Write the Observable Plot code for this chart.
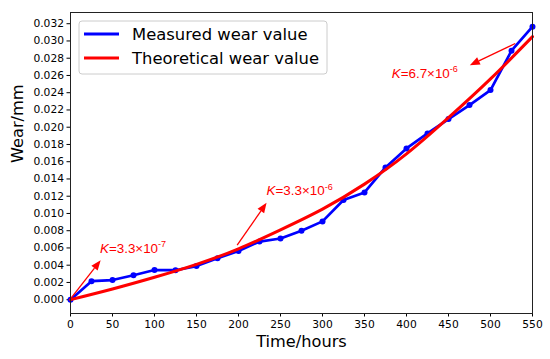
<!DOCTYPE html>
<html><head><meta charset="utf-8">
<script src="https://cdn.jsdelivr.net/npm/d3@7"></script>
<script src="https://cdn.jsdelivr.net/npm/@observablehq/plot@0.6"></script>
<style>body{margin:0;background:#fff}</style>
</head><body><div id="chart"></div>
<script>
// Measured wear (every 25 hours)
const hours = [0,25,50,75,100,125,150,175,200,225,250,275,300,325,350,375,400,425,450,475,500,525,550];
const measuredWear = [0.0000,0.00215,0.00228,0.00284,0.00344,0.00342,0.0039,0.0048,0.00565,0.00674,0.0071,0.0080,0.00908,0.01156,0.01244,0.01534,0.01754,0.01928,0.02095,0.02257,0.0243,0.02887,0.03165];
// Theoretical wear curve, read every 50 hours
const theoryHours = [0,50,100,150,200,250,300,350,400,450,500,550];
const theoryWear = [0.0000,0.00124,0.0026,0.0041,0.0059,0.0081,0.0105,0.0134,0.0169,0.0211,0.0256,0.0305];
// Axis ticks
const xTicks = [0,50,100,150,200,250,300,350,400,450,500,550];
const yTicks = [0,0.002,0.004,0.006,0.008,0.010,0.012,0.014,0.016,0.018,0.020,0.022,0.024,0.026,0.028,0.030,0.032];
// Series
const seriesNames = ["Measured wear value","Theoretical wear value"];
const seriesColors = ["#0000ff","#ff0000"];
// Annotations (data units)
const annMantissa = ["3.3","3.3","6.7"];
const annExponent = ["-7","-6","-6"];
const annTextX = [35.7,234,383];
const annTextY = [0.00537,0.01206,0.02566];
const arrowFromX = [1,199,530];
const arrowFromY = [0.0001,0.00626,0.02965];
const arrowToX = [36.5,234,476];
const arrowToY = [0.00452,0.01117,0.02713];

const measured = hours.map((t,i)=>({t, v: measuredWear[i]}));
const theory = theoryHours.map((t,i)=>({t, v: theoryWear[i]}));

function annotations(index, scales, values, dims) {
  const {x, y} = scales;
  const g = d3.create("svg:g");
  for (let i = 0; i < annMantissa.length; i++) {
    const x1 = x(arrowFromX[i]), y1 = y(arrowFromY[i]), x2 = x(arrowToX[i]), y2 = y(arrowToY[i]);
    const ang = Math.atan2(y2 - y1, x2 - x1);
    const L = 10, W = 4;
    const bx = x2 - L * Math.cos(ang), by = y2 - L * Math.sin(ang);
    g.append("line").attr("x1", x1).attr("y1", y1).attr("x2", bx).attr("y2", by)
      .attr("stroke", seriesColors[1]).attr("stroke-width", 1.3);
    const px = -Math.sin(ang) * W, py = Math.cos(ang) * W;
    g.append("path").attr("d", `M${x2},${y2}L${bx+px},${by+py}L${bx-px},${by-py}Z`).attr("fill", seriesColors[1]);
    const t = g.append("text").attr("x", x(annTextX[i])).attr("y", y(annTextY[i]))
      .attr("text-anchor", "start")
      .attr("fill", seriesColors[1]).attr("font-family", "'Liberation Sans', Arial, sans-serif").attr("font-size", 13.4);
    t.append("tspan").attr("font-style", "italic").text("K");
    t.append("tspan").text("=" + annMantissa[i] + "×10");
    t.append("tspan").attr("dy", -5.5).attr("font-size", 9).text(annExponent[i]);
  }
  return g.node();
}

function legend(index, scales, values, dims) {
  const g = d3.create("svg:g");
  const x0 = dims.marginLeft + 9, y0 = dims.marginTop + 9;
  g.append("rect").attr("x", x0).attr("y", y0).attr("width", 248).attr("height", 53).attr("rx", 3)
    .attr("fill", "#fff").attr("fill-opacity", 0.8).attr("stroke", "#cccccc");
  seriesNames.forEach((name, i) => {
    const cy = y0 + 13 + i * 24;
    g.append("line").attr("x1", x0 + 5).attr("x2", x0 + 40).attr("y1", cy).attr("y2", cy)
      .attr("stroke", seriesColors[i]).attr("stroke-width", 3);
    g.append("text").attr("x", x0 + 53).attr("y", cy + 6).attr("font-size", 16.4)
      .attr("text-anchor", "start")
      .attr("font-family", "'DejaVu Sans', sans-serif").attr("fill", "#000").text(name);
  });
  return g.node();
}

const chart = Plot.plot({
  width: 550, height: 359,
  marginLeft: 70, marginRight: 18, marginTop: 12, marginBottom: 46,
  x: {domain: [0, 550]},
  y: {domain: [-0.0016, 0.0333]},
  style: {fontFamily: "'DejaVu Sans', sans-serif", fontSize: "10.7px", color: "#000", background: "#fff"},
  marks: [
    Plot.axisX({ticks: xTicks, tickSize: 3.5, tickPadding: 3, label: null, tickFormat: d => String(d)}),
    Plot.axisY({ticks: yTicks, tickSize: 3.5, tickPadding: 3, label: null, tickFormat: d3.format(".3f")}),
    Plot.line(measured, {x: "t", y: "v", stroke: seriesColors[0], strokeWidth: 2.7}),
    Plot.dot(measured, {x: "t", y: "v", r: 3, fill: seriesColors[0]}),
    Plot.line(theory, {x: "t", y: "v", stroke: seriesColors[1], strokeWidth: 3, curve: "natural"}),
    annotations,
    Plot.frame({stroke: "#222"}),
    Plot.text(["Time/hours"], {frameAnchor: "bottom", text: d => d, dy: 33.5, fontSize: 16.2, fill: "#000"}),
    Plot.text(["Wear/mm"], {frameAnchor: "left", text: d => d, dx: -53, rotate: -90, fontSize: 16.2, fill: "#000"}),
    legend
  ]
});
document.getElementById("chart").appendChild(chart);
</script>
</body></html>
